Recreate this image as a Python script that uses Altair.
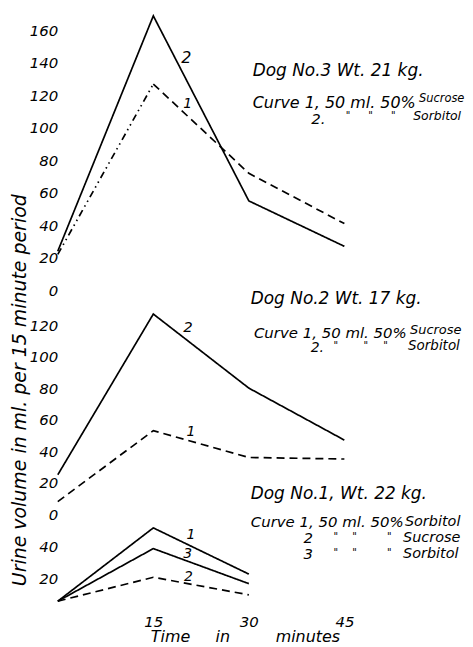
import altair as alt
import pandas as pd

FONT = "DejaVu Sans"

# ---- data ----
minutes = [0, 15, 30, 45]
minutes_dog1 = [0, 15, 30]

# Dog No.3 (Wt. 21 kg): curve 1 = 50 ml 50% sucrose, curve 2 = sorbitol
dog3_curve1 = [22, 127, 72, 41]
dog3_curve2 = [24, 169, 55, 27]
# Dog No.2 (Wt. 17 kg)
dog2_curve1 = [8, 53, 36, 35]
dog2_curve2 = [25, 127, 80, 47]
# Dog No.1 (Wt. 22 kg): 1 sorbitol, 2 sucrose, 3 sorbitol
dog1_curve1 = [6, 52, 23]
dog1_curve2 = [6, 21, 10]
dog1_curve3 = [6, 39, 17]

top_ticks = [0, 20, 40, 60, 80, 100, 120, 140, 160]
mid_ticks = [0, 20, 40, 60, 80, 100, 120]
bot_ticks = [20, 40]
x_ticks = [15, 30, 45]

# annotation texts (minutes, value, text, font size)
top_notes_text = ["Dog No.3  Wt. 21 kg.", "Curve 1, 50 ml. 50%", "Sucrose", "2.", '"', '"', '"', "Sorbitol", "2", "1"]
top_notes_x = [30.6, 30.6, 56.7, 39.8, 45.2, 48.75, 52.3, 55.8, 19.4, 19.7]
top_notes_y = [135, 115.3, 117.7, 105.5, 107.0, 107.0, 107.0, 107.3, 143, 114.7]
top_notes_s = [17, 16, 11.5, 15, 10, 10, 10, 12.5, 16, 14]

mid_notes_text = ["Dog No.2  Wt. 17 kg.", "Curve 1, 50 ml. 50%", "Sucrose", "2.", '"', '"', '"', "Sorbitol", "2", "1"]
mid_notes_x = [30.3, 30.8, 55.3, 39.7, 43.3, 48.0, 51.1, 55.0, 19.7, 20.2]
mid_notes_y = [136.4, 115, 116.9, 105.4, 106.6, 106.6, 106.6, 106.8, 118.8, 52.4]
mid_notes_s = [17, 15, 13, 14, 10, 10, 10, 13.5, 15, 14]

bot_notes_text = ["Dog No.1,  Wt. 22 kg.", "Curve 1, 50 ml. 50%", "Sorbitol", "2", '"', '"', '"', "Sucrose",
                  "3", '"', '"', '"', "Sorbitol", "1", "3", "2"]
bot_notes_x = [30.3, 30.3, 54.5, 38.6, 43.3, 46.25, 51.7, 54.2, 38.6, 43.3, 46.25, 51.7, 54.2, 20.2, 19.7, 19.8]
bot_notes_y = [73.1, 55.6, 55.6, 45.6, 46.3, 46.3, 46.3, 45.6, 35.6, 36.3, 36.3, 36.3, 35.6, 47.5, 35.6, 21.2]
bot_notes_s = [17, 15, 14.5, 15, 10, 10, 10, 14.5, 15, 10, 10, 10, 14.5, 14, 14, 14]


def lines_frame(series):
    rows = []
    for seg, style, xs, ys in series:
        for m, v in zip(xs, ys):
            rows.append({"minutes": m, "value": v, "seg": seg, "style": style})
    return pd.DataFrame(rows)


def notes_frame(texts, xs, ys, sizes):
    return pd.DataFrame({"minutes": xs, "value": ys, "text": texts, "size": sizes})


top_lines = lines_frame([
    ("c2", "solid", minutes, dog3_curve2),
    ("c1a", "dashdot", minutes[:2], dog3_curve1[:2]),
    ("c1b", "dashed", minutes[1:], dog3_curve1[1:]),
])
mid_lines = lines_frame([
    ("c2", "solid", minutes, dog2_curve2),
    ("c1", "dashed", minutes, dog2_curve1),
])
bot_lines = lines_frame([
    ("c1", "solid", minutes_dog1, dog1_curve1),
    ("c3", "solid", minutes_dog1, dog1_curve3),
    ("c2", "dashed", minutes_dog1, dog1_curve2),
])

dash_scale = alt.Scale(domain=["solid", "dashed", "dashdot"],
                       range=[[1, 0], [8, 5], [7, 4, 1.5, 4, 1.5, 4]])

NBSP = "\u00a0"
X_TITLE = "Time" + NBSP * 5 + "in" + NBSP * 9 + "minutes"


def panel(lines_df, notes_df, ymax, height, yticks, show_x=False, ytitle=None):
    if show_x:
        xaxis = alt.Axis(values=x_ticks, title=X_TITLE, titleX=188, titlePadding=-1,
                         labelPadding=4, labelFontSize=15, titleFontSize=16)
    else:
        xaxis = None
    yaxis_kw = dict(values=yticks, labelPadding=0, labelOverlap=False, labelBound=False)
    if ytitle:
        yaxis_kw.update(title=ytitle, titleY=92, titlePadding=0)
    else:
        yaxis_kw.update(title=None)
    x = alt.X("minutes:Q", scale=alt.Scale(domain=[0, 63], nice=False), axis=xaxis)
    y = alt.Y("value:Q", scale=alt.Scale(domain=[0, ymax], nice=False), axis=alt.Axis(**yaxis_kw))
    lines = alt.Chart(lines_df).mark_line(color="black", strokeWidth=1.7).encode(
        x=x, y=y, detail="seg:N",
        strokeDash=alt.StrokeDash("style:N", scale=dash_scale, legend=None),
    )
    notes = alt.Chart(notes_df).mark_text(
        font=FONT, fontStyle="italic", color="black", align="left", baseline="middle"
    ).encode(
        x=x, y=y, text="text:N",
        size=alt.Size("size:Q", scale=None),
    )
    return alt.layer(lines, notes).properties(width=403, height=height)


top = panel(top_lines, notes_frame(top_notes_text, top_notes_x, top_notes_y, top_notes_s),
            173, 282, top_ticks)
mid = panel(mid_lines, notes_frame(mid_notes_text, mid_notes_x, mid_notes_y, mid_notes_s),
            137.1, 217, mid_ticks, ytitle="Urine volume in ml. per 15 minute period")
bot = panel(bot_lines, notes_frame(bot_notes_text, bot_notes_x, bot_notes_y, bot_notes_s),
            55.6, 89, bot_ticks, show_x=True)

chart = alt.vconcat(top, mid, bot, spacing=8, bounds="flush").properties(
    padding={"left": 2, "top": 0, "right": 0, "bottom": 0}
).configure_view(stroke=None).configure_axis(
    domain=False, ticks=False, grid=False, labelOverlap=False,
    labelFont=FONT, labelFontStyle="italic", labelFontSize=15, labelColor="black",
    titleFont=FONT, titleFontStyle="italic", titleFontWeight="normal", titleFontSize=19,
    titleColor="black",
)

chart.save("out.html", embed_options={"renderer": "svg", "actions": False})
